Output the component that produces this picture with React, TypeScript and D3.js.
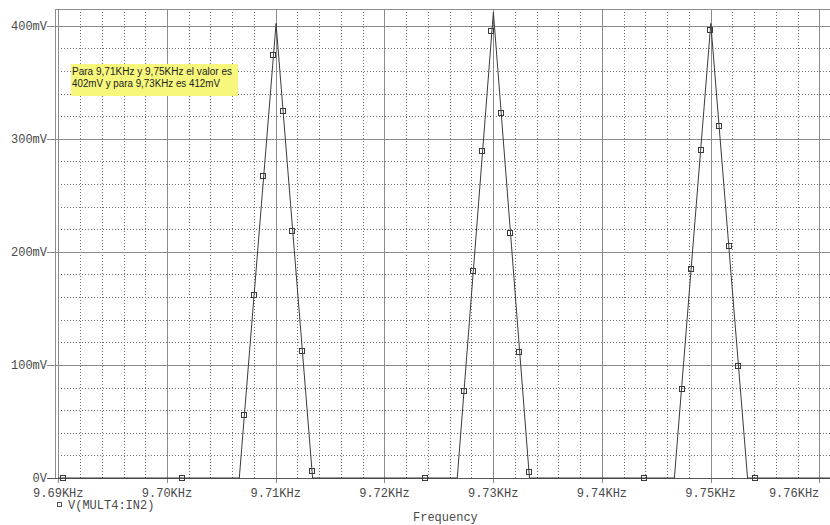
import React, { useEffect, useRef } from "react";
import * as d3 from "d3";

// frequency axis (KHz) and voltage axis (mV)
const xTickValues = [9.69, 9.70, 9.71, 9.72, 9.73, 9.74, 9.75, 9.76];
const xTickLabels = ["9.69KHz", "9.70KHz", "9.71KHz", "9.72KHz", "9.73KHz", "9.74KHz", "9.75KHz", "9.76KHz"];
const yTickValues = [0, 100, 200, 300, 400];
const yTickLabels = ["0V", "100mV", "200mV", "300mV", "400mV"];

// trace vertices V(MULT4:IN2)
const traceFreq = [9.6900, 9.70665, 9.71003, 9.71339, 9.72670, 9.73002, 9.73334, 9.74667, 9.75002, 9.75340, 9.7610];
const traceMV = [0, 0, 402, 0, 0, 412, 0, 0, 402, 0, 0];

// marker samples on the trace
const markerFreq = [
  9.69043, 9.70138, 9.70711, 9.70800, 9.70886, 9.70978, 9.71064, 9.71153, 9.71242, 9.71334,
  9.72373, 9.72729, 9.72815, 9.72900, 9.72980, 9.73072, 9.73155, 9.73241, 9.73330,
  9.74385, 9.74735, 9.74823, 9.74909, 9.74998, 9.75080, 9.75170, 9.75255, 9.75409
];
const markerMV = [
  0, 0, 55.8, 162, 267.5, 373.7, 324.8, 218, 112.4, 6.5,
  0, 77, 183, 289, 395, 322.7, 217, 111, 5,
  0, 78.5, 184.7, 290.5, 396, 311, 205, 99.4, 0
];

const noteLines = ["Para 9,71KHz y 9,75KHz el valor es", "402mV y para 9,73KHz es 412mV"];
const legendLabel = "V(MULT4:IN2)";
const xTitle = "Frequency";

export default function App() {
  const svgRef = useRef(null);
  const width = 830;
  const height = 525;

  useEffect(() => {
    const svg = d3.select(svgRef.current);
    svg.selectAll("*").remove();

    const left = 55, top = 9, right = 830, bottom = 478;
    const x = d3.scaleLinear().domain([9.69, 9.76]).range([58.3, 819.3]);
    const y = d3.scaleLinear().domain([0, 400]).range([bottom, 25.7]);
    const px = (v) => Math.round(v) + 0.5;

    const mono = "'Liberation Mono', 'Courier New', monospace";
    const gridColor = "#8c8c8c";
    const dotColor = "#6e6e6e";
    const textColor = "#4a4a4a";

    svg.append("rect").attr("width", width).attr("height", height).attr("fill", "white");

    const grid = svg.append("g");

    // minor dotted grid
    const xMinor = d3.range(9.69, 9.7601, 0.002).filter((d) => Math.abs(Math.round(d * 100) - d * 100) > 1e-6);
    grid.selectAll(".vminor").data(xMinor).enter().append("line")
      .attr("x1", (d) => px(x(d))).attr("x2", (d) => px(x(d)))
      .attr("y1", top).attr("y2", bottom)
      .attr("stroke", dotColor).attr("stroke-dasharray", "1,2");
    const yMinor = d3.range(20, 401, 20).filter((d) => d % 100 !== 0);
    grid.selectAll(".hminor").data(yMinor).enter().append("line")
      .attr("x1", left).attr("x2", right)
      .attr("y1", (d) => px(y(d))).attr("y2", (d) => px(y(d)))
      .attr("stroke", dotColor).attr("stroke-dasharray", "1,2");

    // major solid grid
    grid.selectAll(".vmajor").data(xTickValues).enter().append("line")
      .attr("x1", (d) => px(x(d))).attr("x2", (d) => px(x(d)))
      .attr("y1", top).attr("y2", bottom + 5)
      .attr("stroke", gridColor);
    grid.selectAll(".hmajor").data(yTickValues).enter().append("line")
      .attr("x1", left - 8).attr("x2", right)
      .attr("y1", (d) => px(y(d))).attr("y2", (d) => px(y(d)))
      .attr("stroke", (d) => (d === 0 ? "#555" : gridColor));

    // frame
    grid.append("line").attr("x1", left + 0.5).attr("x2", left + 0.5).attr("y1", top).attr("y2", bottom)
      .attr("stroke", gridColor);
    grid.append("line").attr("x1", left).attr("x2", right).attr("y1", top + 0.5).attr("y2", top + 0.5)
      .attr("stroke", gridColor);

    // axis labels (last one pulled inside the window edge)
    const lastX = xTickValues.length - 1;
    svg.append("g").selectAll("text").data(xTickValues).enter().append("text")
      .attr("x", (d) => x(d)).attr("y", 497)
      .attr("text-anchor", (d, i) => (i === lastX ? "end" : "middle"))
      .attr("font-family", mono).attr("font-size", 12).attr("fill", textColor)
      .text((d, i) => xTickLabels[i]);
    svg.append("g").selectAll("text").data(yTickValues).enter().append("text")
      .attr("x", 47).attr("y", (d) => y(d) + 4)
      .attr("text-anchor", "end")
      .attr("font-family", mono).attr("font-size", 12).attr("fill", textColor)
      .text((d, i) => yTickLabels[i]);

    // trace
    svg.append("clipPath").attr("id", "plotClip").append("rect")
      .attr("x", left).attr("y", top).attr("width", right - left).attr("height", bottom - top + 2);
    const plot = svg.append("g").attr("clip-path", "url(#plotClip)");
    const line = d3.line().x((d) => x(d[0])).y((d) => y(d[1]));
    plot.append("path")
      .datum(traceFreq.map((f, i) => [f, traceMV[i]]))
      .attr("fill", "none").attr("stroke", "#3a3a3a").attr("stroke-width", 1)
      .attr("d", line);

    // markers
    svg.append("g").selectAll("rect").data(markerFreq).enter().append("rect")
      .attr("x", (d) => Math.round(x(d)) - 2.5)
      .attr("y", (d, i) => Math.round(y(markerMV[i])) - 2.5)
      .attr("width", 5).attr("height", 5)
      .attr("fill", "none").attr("stroke", "#3a3a3a").attr("stroke-width", 1);

    // annotation
    const note = svg.append("g");
    note.append("rect").attr("x", 71).attr("y", 64).attr("width", 167).attr("height", 32)
      .attr("fill", "#f7f77c");
    note.selectAll("text").data(noteLines).enter().append("text")
      .attr("x", 72).attr("y", (d, i) => 75 + i * 11.5)
      .attr("font-family", "'Liberation Sans', Arial, sans-serif").attr("font-size", 10)
      .attr("textLength", (d, i) => (i === 0 ? 160 : 148))
      .attr("lengthAdjust", "spacingAndGlyphs")
      .attr("fill", "#222")
      .text((d) => d);

    // legend
    svg.append("rect").attr("x", 57.5).attr("y", 502.5).attr("width", 4).attr("height", 4)
      .attr("fill", "none").attr("stroke", "#555");
    svg.append("text").attr("x", 68).attr("y", 509)
      .attr("font-family", mono).attr("font-size", 12).attr("fill", textColor)
      .text(legendLabel);
    svg.append("text").attr("x", 413).attr("y", 521)
      .attr("font-family", mono).attr("font-size", 12).attr("fill", textColor)
      .text(xTitle);
  }, []);

  return (
    <svg ref={svgRef} width={width} height={height}
      style={{ position: "absolute", left: 0, top: 0, display: "block" }} />
  );
}
